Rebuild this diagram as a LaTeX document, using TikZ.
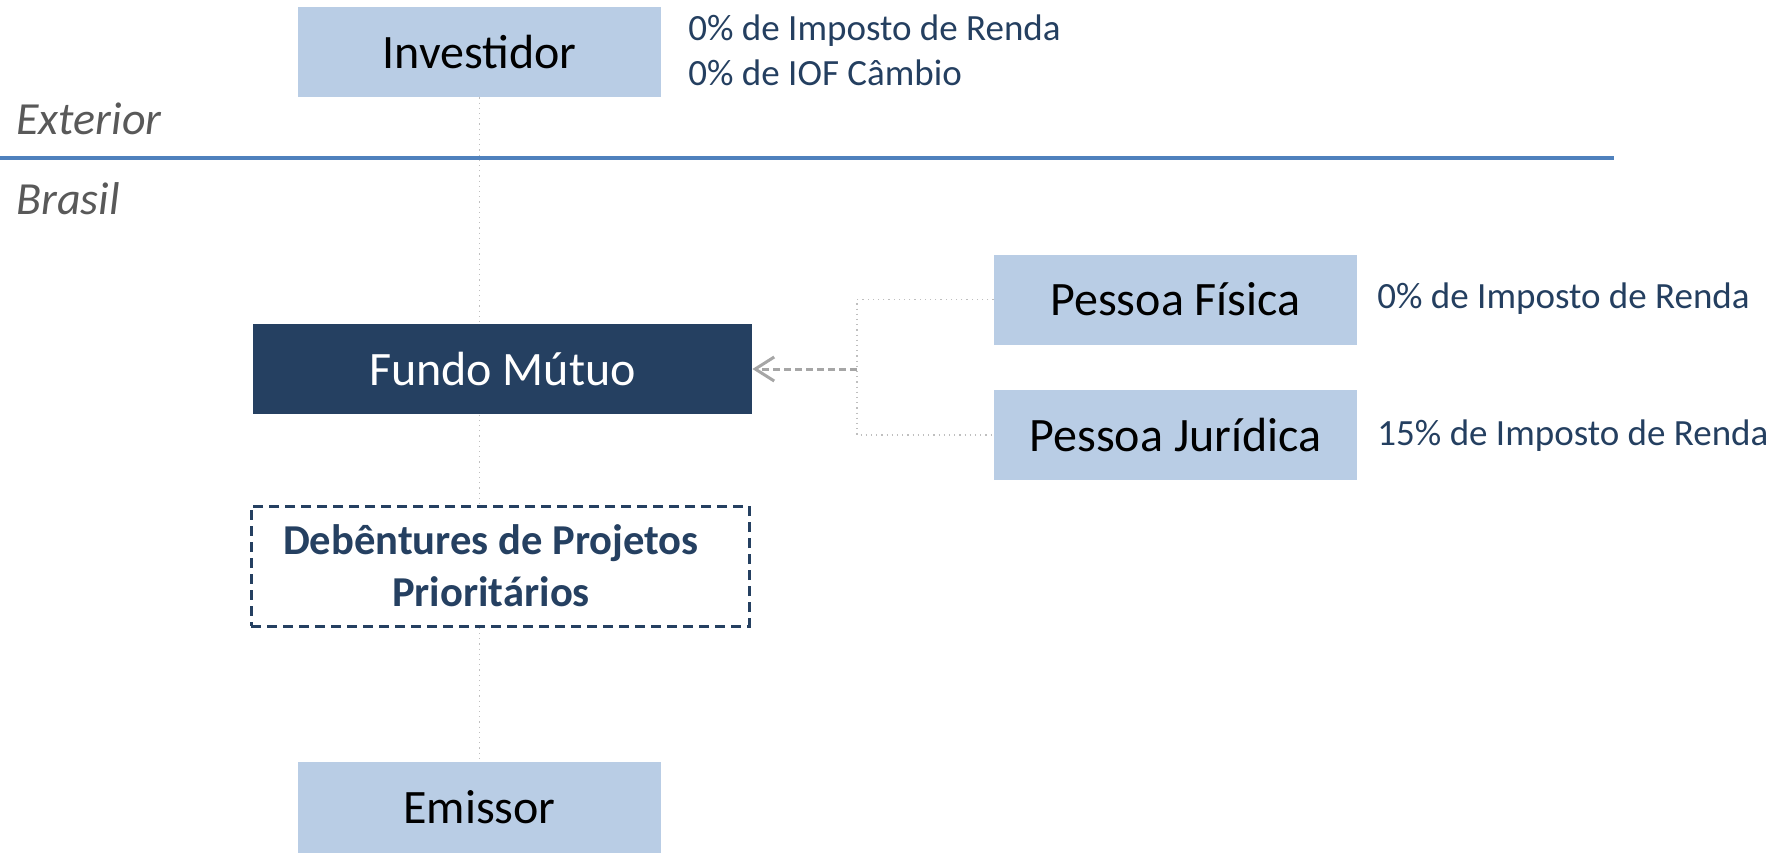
\documentclass[tikz,border=0pt]{standalone}
\usepackage{fontspec}
\setmainfont{Carlito}
\usetikzlibrary{arrows.meta,backgrounds}
\definecolor{lightbox}{HTML}{B9CDE5}
\definecolor{darkbox}{HTML}{254061}
\definecolor{navytext}{HTML}{243F60}
\definecolor{sepblue}{HTML}{4F81BD}
\definecolor{regiongray}{HTML}{595959}
\definecolor{linkgray}{HTML}{BFBFBF}
\definecolor{arrowgray}{HTML}{A6A6A6}
\tikzset{
  lightnode/.style={fill=lightbox, draw=none, minimum width=181.5pt, minimum height=45pt, inner sep=0pt, font=\fontsize{24pt}{29pt}\selectfont, text=black},
  darknode/.style={fill=darkbox, draw=none, minimum width=249.5pt, minimum height=45pt, inner sep=0pt, font=\fontsize{24pt}{29pt}\selectfont, text=white},
  dashnode/.style={fill=white, draw=darkbox, line width=1.5pt, dash pattern=on 5pt off 3pt, minimum width=249pt, minimum height=60pt, inner sep=0pt, align=center, font=\fontsize{21.3pt}{26pt}\selectfont\bfseries, text=darkbox},
  note/.style={anchor=base west, inner sep=0pt, font=\fontsize{18.5pt}{22.5pt}\selectfont, text=navytext},
  region/.style={anchor=base west, inner sep=0pt, font=\fontsize{23pt}{28pt}\selectfont\itshape, text=regiongray},
  spine/.style={draw=linkgray, line width=0.6pt, dotted},
  bracket/.style={draw=linkgray, line width=0.6pt, dotted},
  feed/.style={draw=arrowgray, line width=1.5pt, dash pattern=on 3.5pt off 2pt, -{Straight Barb[length=9.5pt, width=12pt, line width=1.5pt]}}
}
\begin{document}
\begin{tikzpicture}[x=0.5pt, y=-0.5pt]
\useasboundingbox (0,0) rectangle (1789,853);
% boxes
\node[lightnode] (inv) at (479.5,52) {Investidor};
\node[darknode] (fundo) at (502.5,369) {Fundo Mútuo};
\node[dashnode] (deb) at (500,566) {Debêntures de Projetos\hspace*{9pt}\\Prioritários\hspace*{9pt}};
\node[lightnode, minimum height=45.5pt] (emi) at (479.5,807.5) {Emissor};
\node[lightnode] (pf) at (1175.5,299.5) {Pessoa Física};
\node[lightnode] (pj) at (1175.5,435) {Pessoa Jurídica};
% notes
\node[note] (n1) at (688,40) {0\% de Imposto de Renda};
\node[note] (n2) at (688,85) {0\% de IOF Câmbio};
\node[note] (n3) at (1377,308) {0\% de Imposto de Renda};
\node[note] (n4) at (1377,445) {15\% de Imposto de Renda};
% regions
\node[region] (ext) at (16,134) {Exterior};
\node[region] (bra) at (16,214) {Brasil};
\coordinate (sepL) at (0,158);
\coordinate (sepR) at (1614,158);
\draw[sepblue, line width=1.6pt] (sepL) -- (sepR);
% spine behind boxes
\begin{scope}[on background layer]
\draw[spine] (inv.south) -- (emi.north);
\end{scope}
% bracket and arrow
\coordinate (br) at (857,369);
\draw[bracket] (pf.west) -| (br) |- (pj.west);
\draw[feed] (br) -- (fundo.east);
\end{tikzpicture}
\end{document}
